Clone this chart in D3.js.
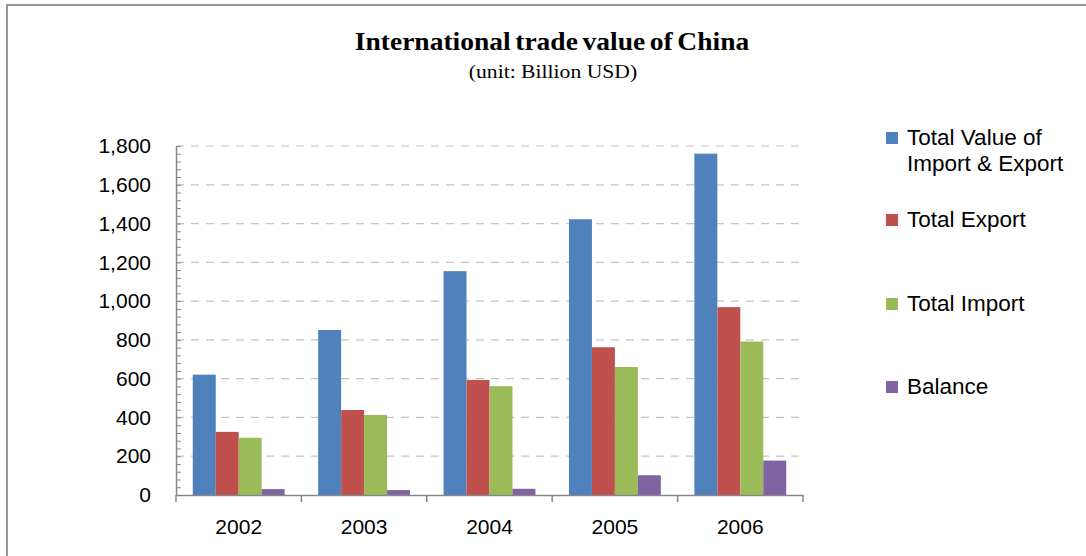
<!DOCTYPE html>
<html>
<head>
<meta charset="utf-8">
<script src="https://cdn.jsdelivr.net/npm/d3@7"></script>
<style>
  body { margin: 0; background: #fff; }
  .eje text { font-family: "Liberation Sans", Arial, sans-serif; font-size: 21px; fill: #000; }
  .eje path, .eje line { stroke: #868686; }
  .leyenda text { font-family: "Liberation Sans", Arial, sans-serif; font-size: 22.5px; fill: #000; }
</style>
</head>
<body>
<div id="graf"></div>
<script>
// Datos: comercio exterior de China (miles de millones USD)
años = ['2002', '2003', '2004', '2005', '2006']
totalComercio = [620.8, 851.2, 1154.6, 1422.1, 1760.7]
exportaciones = [325.6, 438.4, 593.4, 762.0, 969.1]
importaciones = [295.2, 412.8, 561.4, 660.1, 791.6]
balanza = [30.4, 25.5, 32.0, 102.0, 177.5]

series = ['Total Value of\nImport & Export', 'Total Export', 'Total Import', 'Balance']
valores = [totalComercio, exportaciones, importaciones, balanza]
colores = ['#4f81bd', '#c0504d', '#9bbb59', '#8064a2']
ticksY = [0, 200, 400, 600, 800, 1000, 1200, 1400, 1600, 1800]

// I. Configuración
ancho_total = 1086
alto_total = 556

margins = { top: 146, left: 176, right: 283, bottom: 61 }
ancho = ancho_total - margins.left - margins.right
alto = alto_total - margins.top - margins.bottom

svg = d3.select('#graf').append('svg')
        .attr('width', ancho_total)
        .attr('height', alto_total)

// marco exterior
svg.append('rect')
   .attr('x', 7).attr('y', 5)
   .attr('width', ancho_total).attr('height', alto_total)
   .attr('fill', 'none')
   .attr('stroke', '#808080')
   .attr('stroke-width', 1.6)

// títulos (algo ensanchados en horizontal)
svg.append('text')
   .attr('transform', 'translate(552, 50) scale(1.1, 1)')
   .attr('text-anchor', 'middle')
   .style('font-family', '"Liberation Serif", "Times New Roman", serif')
   .style('font-weight', 'bold')
   .style('font-size', '25px')
   .style('word-spacing', '-2px')
   .text('International trade value of China')

svg.append('text')
   .attr('transform', 'translate(553, 78) scale(1.14, 1)')
   .attr('text-anchor', 'middle')
   .style('font-family', '"Liberation Serif", "Times New Roman", serif')
   .style('font-size', '19px')
   .text('(unit: Billion USD)')

g = svg.append('g')
       .attr('transform', `translate(${ margins.left }, ${ margins.top })`)

y = d3.scaleLinear().domain([0, 1800]).range([alto, 0])

x = d3.scaleBand().domain(años).range([0, ancho])
x1 = d3.scaleBand().domain(d3.range(series.length))
       .range([0, x.bandwidth()])
       .paddingOuter(0.73)

// rejilla punteada
g.append('g')
 .selectAll('line')
 .data(ticksY.slice(1))
 .enter().append('line')
   .attr('x1', 0).attr('x2', ancho - 3)
   .attr('y1', d => y(d)).attr('y2', d => y(d))
   .attr('stroke', '#c4c4c4')
   .attr('stroke-width', 1.2)
   .attr('stroke-dasharray', '8,7')

// barras
grupos = g.selectAll('.anio')
          .data(años)
          .enter().append('g')
          .attr('transform', d => `translate(${ x(d) }, 0)`)

grupos.selectAll('rect')
      .data((d, i) => valores.map((v, s) => ({ s: s, v: v[i] })))
      .enter().append('rect')
        .attr('x', d => x1(d.s))
        .attr('width', x1.bandwidth())
        .attr('y', d => y(d.v))
        .attr('height', d => alto - y(d.v))
        .attr('fill', d => colores[d.s])

// eje Y: marcas menores hacia dentro y etiquetas
menores = d3.range(0, 1801, 40)
g.append('g')
 .attr('class', 'eje')
 .call(d3.axisRight(y).tickValues(menores).tickSize(5).tickFormat(''))
 .call(e => e.select('.domain').remove())

yAxisGroup = g.append('g')
              .attr('class', 'eje')
              .call(d3.axisLeft(y).tickValues(ticksY).tickSize(0).tickPadding(25)
                      .tickFormat(d3.format(',')))
yAxisGroup.select('.domain').attr('stroke-width', 1.5)

// eje X: marcas en los límites de cada categoría
xAxisGroup = g.append('g')
              .attr('class', 'eje')
              .attr('transform', `translate(0, ${ alto })`)
              .call(d3.axisBottom(x).tickSize(0).tickPadding(24))
xAxisGroup.select('.domain').attr('stroke-width', 1.5)
xAxisGroup.selectAll('.limite')
          .data(años.map(d => x(d)).concat([ancho]))
          .enter().append('line')
            .attr('x1', d => d).attr('x2', d => d)
            .attr('y1', 0).attr('y2', 7)
            .attr('stroke', '#868686')
            .attr('stroke-width', 1.5)

// leyenda
leyenda = svg.append('g').attr('class', 'leyenda')
posY = [137, 219, 303, 386]
series.forEach((nombre, i) => {
  item = leyenda.append('g').attr('transform', `translate(886, ${ posY[i] })`)
  item.append('rect')
      .attr('x', 0).attr('y', -5)
      .attr('width', 12).attr('height', 12)
      .attr('fill', colores[i])
  t = item.append('text').attr('x', 21).attr('y', 8)
  nombre.split('\n').forEach((linea, j) => {
    t.append('tspan').attr('x', 21).attr('dy', j ? 26 : 0).text(linea)
  })
})
</script>
</body>
</html>
